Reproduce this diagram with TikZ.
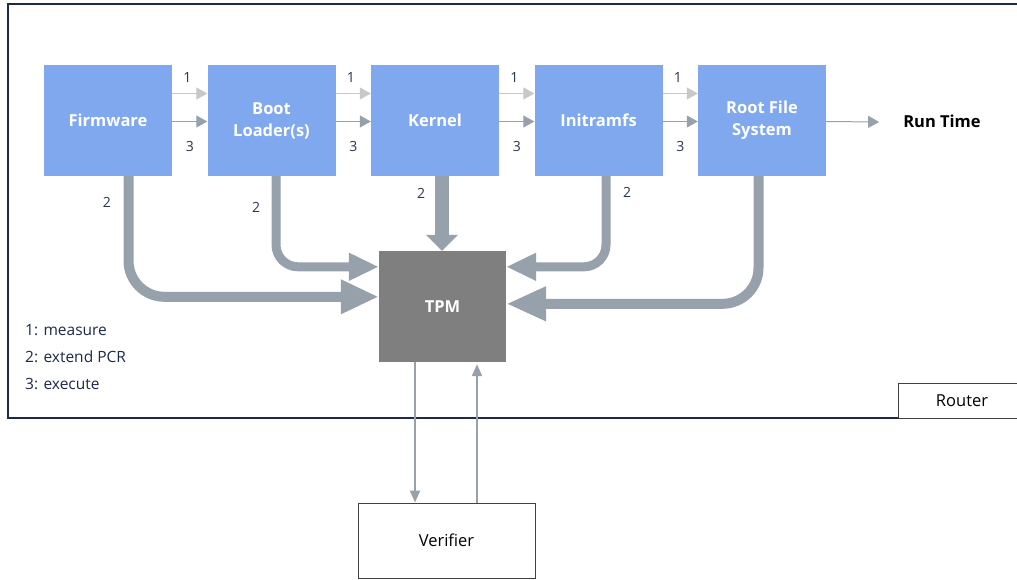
\documentclass[tikz,border=0pt]{standalone}
\usepackage{fontspec}
\setmainfont{Open Sans}
\usetikzlibrary{arrows.meta,calc}
\definecolor{boxblue}{HTML}{80A8EE}
\definecolor{tpmgray}{HTML}{7F7F7F}
\definecolor{pipegray}{HTML}{97A1AB}
\definecolor{lightarr}{HTML}{C6C8CA}
\definecolor{navy}{HTML}{1E2A48}
\definecolor{digit}{HTML}{2A3550}
\begin{document}
\begin{tikzpicture}[x=1pt,y=-1pt,
  stage/.style={fill=boxblue,minimum width=128pt,minimum height=111pt,inner sep=0pt,
    text=white,align=center,font=\fontsize{16.5}{22}\selectfont\bfseries},
  plainbox/.style={draw=black!75,line width=0.9pt,inner sep=0pt,font=\fontsize{16.5}{20}\selectfont},
  arrone/.style={draw=lightarr,line width=1pt,-{Triangle[length=11pt,width=12pt]}},
  arrthree/.style={draw=pipegray,line width=1pt,-{Triangle[length=11pt,width=12pt]}},
  pipe/.style={draw=pipegray,line width=#1},
  thin/.style={draw=pipegray,line width=2pt,-{Triangle[length=12pt,width=10pt]}},
  dig/.style={text=digit,font=\fontsize{14}{16}\selectfont,inner sep=0pt},
  legend/.style={text=navy,font=\fontsize{15.5}{18}\selectfont,inner sep=0pt,anchor=west},
  frameline/.style={draw=navy,line width=1.2pt}
]
\useasboundingbox (0,0) rectangle (1017,579);
\fill[white] (0,0) rectangle (1017,579);

% outer frame
\coordinate (ftr) at (1018,4);
\coordinate (ftl) at (8,4);
\coordinate (fbl) at (8,418);
\coordinate (fbr) at (898,418);
\draw[frameline] (ftr) -- (ftl) -- (fbl) -- (fbr);

% router
\node[plainbox,minimum width=128pt,minimum height=35pt] (router) at (962,400.5) {Router};

% stages
\node[stage] (fw) at (108,120.5) {Firmware};
\node[stage] (bl) at (271.5,120.5) {Boot\\Loader(s)};
\node[stage] (kn) at (435,120.5) {Kernel};
\node[stage] (ir) at (598.5,120.5) {Initramfs};
\node[stage] (rf) at (762,120.5) {Root File\\System};

\node[fill=tpmgray,minimum width=127pt,minimum height=111pt,inner sep=0pt,text=white,
  font=\fontsize{16.5}{20}\selectfont\bfseries] (tpm) at (442.5,306.5) {TPM};

\node[plainbox,minimum width=177pt,minimum height=75pt] (ver) at (446.5,540.5) {Verifier};

\node[inner sep=0pt,font=\fontsize{16.5}{20}\selectfont\bfseries] (rt) at (942,121) {Run Time};

% measure / execute arrows
\foreach \a/\b in {fw/bl,bl/kn,kn/ir,ir/rf}{
  \draw[arrone] ($(\a.east)+(0,-27)$) -- ($(\b.west)+(0,-27)$);
  \draw[arrthree] ($(\a.east)+(0,1)$) -- ($(\b.west)+(0,1)$);
  \node[dig] at ($(\a.east)!0.43!(\b.west)+(0,-43.5)$) {1};
  \node[dig] at ($(\a.east)!0.5!(\b.west)+(0,25.5)$) {3};
}
\draw[arrthree] ($(rf.east)+(0,1)$) -- ($(rt.west)+(-24,1)$);

% extend PCR pipes
\coordinate (fwb) at ($(fw.south)+(20.5,0)$);
\coordinate (fwt) at ($(tpm.north west)+(0,46)$);
\draw[pipe=10pt,rounded corners=36pt,-{Triangle[length=38pt,width=32pt]}] (fwb) |- (fwt);

\coordinate (blb) at ($(bl.south)+(4.5,0)$);
\coordinate (blt) at ($(tpm.north west)+(0,16)$);
\draw[pipe=9pt,rounded corners=22pt,-{Triangle[length=30pt,width=26pt]}] (blb) |- (blt);

\coordinate (knb) at ($(kn.south)+(7,0)$);
\coordinate (knt) at (tpm.north -| knb);
\draw[pipe=14pt,-{Triangle[length=16pt,width=31pt]}] (knb) -- (knt);

\coordinate (irb) at ($(ir.south)+(7.5,0)$);
\coordinate (irt) at ($(tpm.north east)+(0,16)$);
\draw[pipe=9pt,rounded corners=22pt,-{Triangle[length=30pt,width=26pt]}] (irb) |- (irt);

\coordinate (rfb) at ($(rf.south)+(-3.5,0)$);
\coordinate (rft) at ($(tpm.north east)+(0,53)$);
\draw[pipe=10pt,rounded corners=36pt,-{Triangle[length=40pt,width=32pt]}] (rfb) |- (rft);

\node[dig] at (107,202) {2};
\node[dig] at (256,207) {2};
\node[dig] at (421,193) {2};
\node[dig] at (627,192) {2};

% TPM <-> Verifier
\coordinate (tpmd) at ($(tpm.south)+(-27.5,0)$);
\coordinate (verd) at (ver.north -| tpmd);
\draw[thin] (tpmd) -- (verd);
\coordinate (veru) at ($(ver.north)+(30.5,0)$);
\coordinate (tpmu) at ($(tpm.south -| veru)+(0,2)$);
\draw[thin] (veru) -- (tpmu);

% legend
\node[legend] (l1) at (25,330) {1: measure};
\node[legend] (l2) at (25,357) {2: extend PCR};
\node[legend] (l3) at (25,384) {3: execute};
\end{tikzpicture}
\end{document}
